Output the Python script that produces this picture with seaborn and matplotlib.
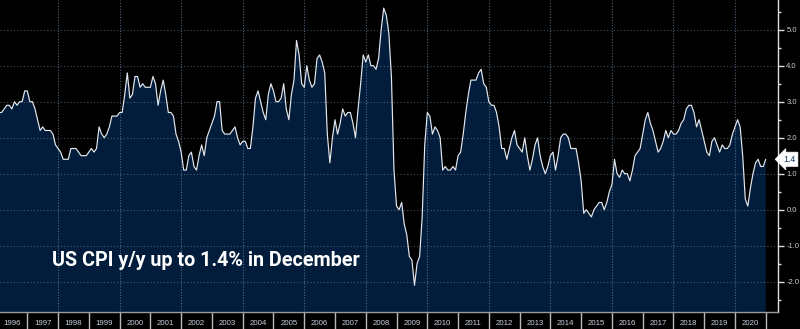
import numpy as np
import pandas as pd
import matplotlib
matplotlib.use("Agg")
import matplotlib.pyplot as plt
import seaborn as sns
from matplotlib.ticker import FixedLocator, FuncFormatter

# ---------------- data (monthly US CPI y/y, %) ----------------
years = list(range(1996, 2021))
cpi_1996 = [2.7, 2.7, 2.8, 2.9, 2.9, 2.8, 3.0, 2.9, 3.0, 3.0, 3.3, 3.3]
cpi_1997 = [3.0, 3.0, 2.8, 2.5, 2.2, 2.3, 2.2, 2.2, 2.2, 2.1, 1.8, 1.7]
cpi_1998 = [1.6, 1.4, 1.4, 1.4, 1.7, 1.7, 1.7, 1.6, 1.5, 1.5, 1.5, 1.6]
cpi_1999 = [1.7, 1.6, 1.7, 2.3, 2.1, 2.0, 2.1, 2.3, 2.6, 2.6, 2.6, 2.7]
cpi_2000 = [2.7, 3.2, 3.8, 3.1, 3.2, 3.7, 3.7, 3.4, 3.5, 3.4, 3.4, 3.4]
cpi_2001 = [3.7, 3.5, 2.9, 3.3, 3.6, 3.2, 2.7, 2.7, 2.6, 2.1, 1.9, 1.6]
cpi_2002 = [1.1, 1.1, 1.5, 1.6, 1.2, 1.1, 1.5, 1.8, 1.5, 2.0, 2.2, 2.4]
cpi_2003 = [2.6, 3.0, 3.0, 2.2, 2.1, 2.1, 2.1, 2.2, 2.3, 2.0, 1.8, 1.9]
cpi_2004 = [1.9, 1.7, 1.7, 2.3, 3.1, 3.3, 3.0, 2.7, 2.5, 3.2, 3.5, 3.3]
cpi_2005 = [3.0, 3.0, 3.1, 3.5, 2.8, 2.5, 3.2, 3.6, 4.7, 4.3, 3.5, 3.4]
cpi_2006 = [4.0, 3.6, 3.4, 3.5, 4.2, 4.3, 4.1, 3.8, 2.1, 1.3, 2.0, 2.5]
cpi_2007 = [2.1, 2.4, 2.8, 2.6, 2.7, 2.7, 2.4, 2.0, 2.8, 3.5, 4.3, 4.1]
cpi_2008 = [4.3, 4.0, 4.0, 3.9, 4.2, 5.0, 5.6, 5.4, 4.9, 3.7, 1.1, 0.1]
cpi_2009 = [0.0, 0.2, -0.4, -0.7, -1.3, -1.4, -2.1, -1.5, -1.3, -0.2, 1.8, 2.7]
cpi_2010 = [2.6, 2.1, 2.3, 2.2, 2.0, 1.1, 1.2, 1.1, 1.1, 1.2, 1.1, 1.5]
cpi_2011 = [1.6, 2.1, 2.7, 3.2, 3.6, 3.6, 3.6, 3.8, 3.9, 3.5, 3.4, 3.0]
cpi_2012 = [2.9, 2.9, 2.7, 2.3, 1.7, 1.7, 1.4, 1.7, 2.0, 2.2, 1.8, 1.7]
cpi_2013 = [1.6, 2.0, 1.5, 1.1, 1.4, 1.8, 2.0, 1.5, 1.2, 1.0, 1.2, 1.5]
cpi_2014 = [1.6, 1.1, 1.5, 2.0, 2.1, 2.1, 2.0, 1.7, 1.7, 1.7, 1.3, 0.8]
cpi_2015 = [-0.1, 0.0, -0.1, -0.2, 0.0, 0.1, 0.2, 0.2, 0.0, 0.2, 0.5, 0.7]
cpi_2016 = [1.4, 1.0, 0.9, 1.1, 1.0, 1.0, 0.8, 1.1, 1.5, 1.6, 1.7, 2.1]
cpi_2017 = [2.5, 2.7, 2.4, 2.2, 1.9, 1.6, 1.7, 1.9, 2.2, 2.0, 2.2, 2.1]
cpi_2018 = [2.1, 2.2, 2.4, 2.5, 2.8, 2.9, 2.9, 2.7, 2.3, 2.5, 2.2, 1.9]
cpi_2019 = [1.6, 1.5, 1.9, 2.0, 1.8, 1.6, 1.8, 1.7, 1.7, 1.8, 2.1, 2.3]
cpi_2020 = [2.5, 2.3, 1.5, 0.3, 0.1, 0.6, 1.0, 1.3, 1.4, 1.2, 1.2, 1.4]

yearly = [cpi_1996, cpi_1997, cpi_1998, cpi_1999, cpi_2000, cpi_2001, cpi_2002,
          cpi_2003, cpi_2004, cpi_2005, cpi_2006, cpi_2007, cpi_2008, cpi_2009,
          cpi_2010, cpi_2011, cpi_2012, cpi_2013, cpi_2014, cpi_2015, cpi_2016,
          cpi_2017, cpi_2018, cpi_2019, cpi_2020]
y_ticks = [5.0, 4.0, 3.0, 2.0, 1.0, 0.0, -1.0, -2.0]
year_labels = [str(y) for y in years]
title_text = "US CPI y/y up to 1.4% in December"
last_label = "1.4"

# month-end positions in fractional years
rows = []
for yr, vals in zip(years, yearly):
    for m, v in enumerate(vals):
        rows.append({"t": yr + (m + 1) / 12.0, "cpi": v})
df = pd.DataFrame(rows)

# ---------------- style ----------------
sns.set_theme(style="dark")
plt.rcParams["font.family"] = ["Liberation Sans", "DejaVu Sans"]

BG = "#000000"
FILL = "#021d3b"
W, H = 800, 329
fig = plt.figure(figsize=(W / 100, H / 100), dpi=100, facecolor=BG)
ax = fig.add_axes([0, 17 / H, 778 / W, 312 / H])
ax.set_facecolor(BG)

x0, x1 = 1996.113, 2021.397
ax.set_xlim(x0, x1)
ax.set_ylim(-2.842, 5.825)

ax.fill_between(df["t"], df["cpi"], -10, color=FILL, lw=0, zorder=1)
sns.lineplot(data=df, x="t", y="cpi", ax=ax, color="#e4e8ee", lw=0.85, zorder=3)

# gridlines
for v in y_ticks:
    ax.axhline(v, color="#7f8fa3", lw=0.8, ls=(0, (1, 2)), alpha=0.55, zorder=2)
for yr in range(1998, 2022, 2):
    ax.axvline(yr, color="#6d8aa8", lw=0.8, ls=(0, (1, 1.5)), alpha=0.7, zorder=2)

# spines
for s in ["left", "top"]:
    ax.spines[s].set_visible(False)
ax.spines["right"].set_color("#e0e0e0")
ax.spines["right"].set_linewidth(1.0)
ax.spines["bottom"].set_color("#9a9a9a")
ax.spines["bottom"].set_linewidth(1.0)

# y axis on right
ax.yaxis.tick_right()
ax.yaxis.set_label_position("right")
ax.set_yticks(y_ticks)
ax.set_yticklabels([f"{v:.1f}" for v in y_ticks])
ax.yaxis.set_minor_locator(FixedLocator(np.arange(-2.5, 6.0, 1.0)))
ax.tick_params(axis="y", which="major", direction="out", length=4, width=1,
               color="#e0e0e0", labelsize=5.5, labelcolor="#c8ccd4", pad=2,
               left=False, right=True)
ax.tick_params(axis="y", which="minor", direction="out", length=2.5, width=1,
               color="#e0e0e0", left=False, right=True)

# x axis: separators at year boundaries, labels centred in year
ax.set_xticks(list(range(1997, 2022)))
ax.set_xticklabels([""] * len(range(1997, 2022)))
ax.xaxis.set_minor_locator(FixedLocator([y + 0.5 for y in years]))
ax.xaxis.set_minor_formatter(FuncFormatter(lambda v, p: str(int(v))))
ax.tick_params(axis="x", which="major", direction="out", length=17, width=1,
               color="#b8b8b8", bottom=True)
ax.tick_params(axis="x", which="minor", length=0, labelsize=5.7,
               labelcolor="#c8d0dc", pad=6)
ax.set_xlabel("")
ax.set_ylabel("")
ax.grid(False)

# headline
ax.text(52 / 778, (329 - 17 - 260) / 312, title_text, transform=ax.transAxes,
        fontsize=14.2, fontweight="bold", color="white", va="center", ha="left",
        family=["Roboto", "DejaVu Sans"], zorder=5)

# last value tag
last_val = cpi_2020[-1]
ax.text(1.0 + 5 / 778, last_val, last_label, transform=ax.get_yaxis_transform(),
        fontsize=6.3, color="#13315c", va="center", ha="left",
        bbox=dict(boxstyle="larrow,pad=0.3", fc="white", ec="white", lw=0.5),
        zorder=6, clip_on=False)

fig.savefig("out.png", dpi=100, facecolor=BG)
